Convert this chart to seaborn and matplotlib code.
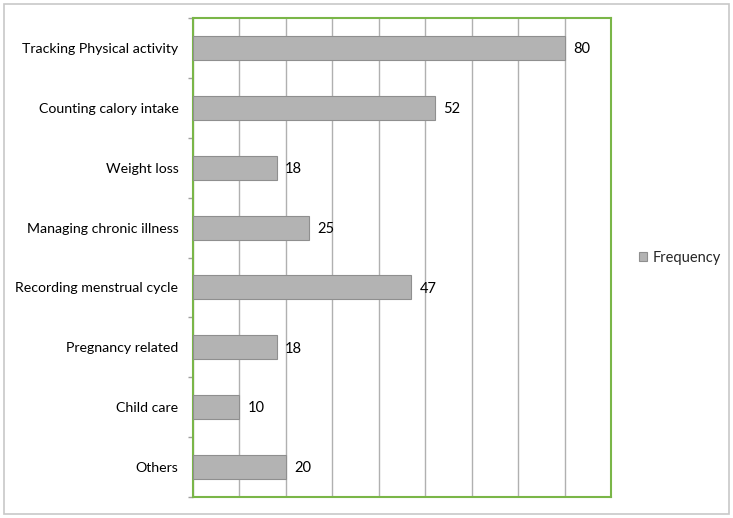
import matplotlib
matplotlib.use("Agg")
import matplotlib.pyplot as plt
import seaborn as sns
import pandas as pd
from matplotlib.patches import Rectangle, Patch

categories = ["Tracking Physical activity", "Counting calory intake", "Weight loss",
              "Managing chronic illness", "Recording menstrual cycle", "Pregnancy related",
              "Child care", "Others"]
frequency = [80, 52, 18, 25, 47, 18, 10, 20]
series_name = "Frequency"

df = pd.DataFrame({"Category": categories, "Value": frequency})

sns.set_style("white")
plt.rcParams['font.family'] = ['Lato', 'DejaVu Sans']

fig = plt.figure(figsize=(7.33, 5.18), dpi=100)
ax = fig.add_axes([193/733, 21/518, 418/733, 479/518])

sns.barplot(data=df, y="Category", x="Value", orient="h", color="#b3b3b3",
            edgecolor="#8f8f8f", linewidth=0.8, width=0.4, saturation=1, ax=ax, zorder=3)

ax.set_xlim(0, 90)
ax.set_ylim(len(categories) - 0.5, -0.5)
ax.set_xticks(range(0, 91, 10))
ax.set_xticklabels([])
ax.tick_params(axis="x", length=0)
ax.grid(axis="x", color="#b0b0b0", linewidth=1, zorder=0)
ax.set_axisbelow(True)
ax.set_xlabel("")
ax.set_ylabel("")
ax.tick_params(axis="y", which="major", left=False, length=0, labelsize=10.2, pad=10.5,
               labelcolor="#000000")
ax.set_yticks([i + 0.5 for i in range(-1, len(categories))], minor=True)
ax.tick_params(axis="y", which="minor", left=True, direction="out", length=3.5,
               color="#a0a0a0", width=1)

for s in ax.spines.values():
    s.set_visible(True)
    s.set_color("#7ab648")
    s.set_linewidth(1.5)

for i, v in enumerate(frequency):
    ax.text(v + 1.8, i + 0.02, str(v), va="center", ha="left", fontsize=10.5, color="#000000")

handle = Patch(facecolor="#b3b3b3", edgecolor="#8f8f8f", linewidth=0.8, label=series_name)
fig.legend(handles=[handle], loc="center left", bbox_to_anchor=(626/733, 1 - 258/518),
           frameon=False, fontsize=10.5, handlelength=0.55, handleheight=0.55, handletextpad=0.4)

fig.patches.append(Rectangle((4/733, 4/518), 725/733, 510/518, transform=fig.transFigure,
                             fill=False, edgecolor="#c8c8c8", linewidth=1.2))

fig.savefig("out.png", dpi=100)
